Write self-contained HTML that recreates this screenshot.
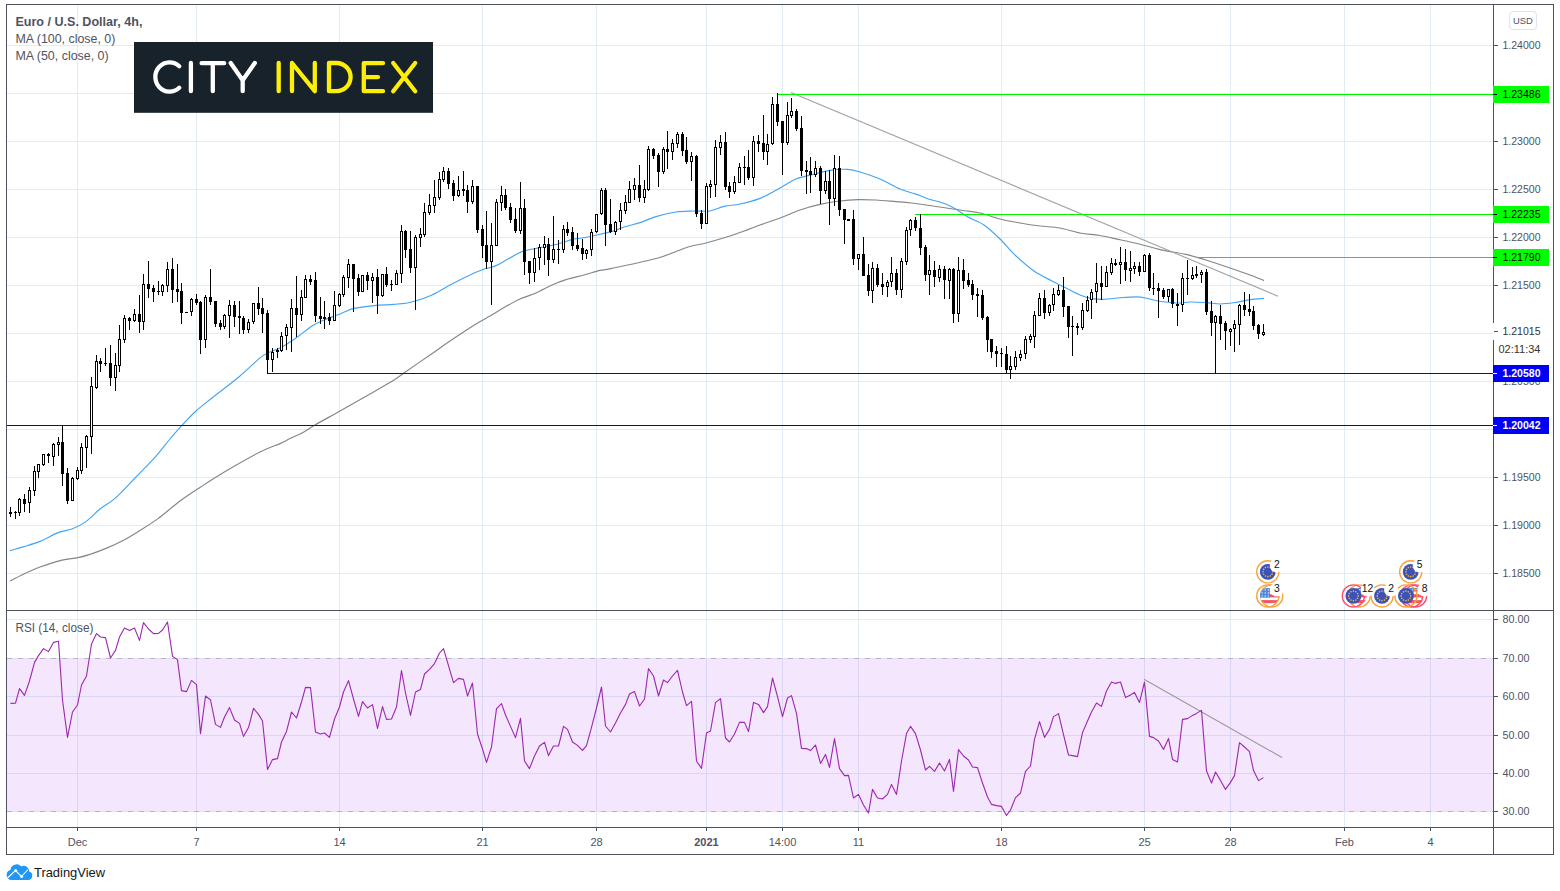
<!DOCTYPE html><html><head><meta charset="utf-8"><title>chart</title><style>html,body{margin:0;padding:0;background:#fff;width:1560px;height:891px;overflow:hidden}</style></head><body><svg width="1560" height="891" viewBox="0 0 1560 891" style="position:absolute;left:0;top:0" font-family="Liberation Sans, sans-serif">
<rect width="1560" height="891" fill="#fff"/>
<path d="M77.5 5V827 M196.5 5V827 M339.5 5V827 M482.5 5V827 M596.5 5V827 M706.5 5V827 M782.5 5V827 M858.5 5V827 M1001.5 5V827 M1144.5 5V827 M1230.5 5V827 M1344.5 5V827 M1430.5 5V827 M7 45.5H1493 M7 93.5H1493 M7 141.5H1493 M7 189.5H1493 M7 237.5H1493 M7 285.5H1493 M7 333.5H1493 M7 381.5H1493 M7 429.5H1493 M7 477.5H1493 M7 525.5H1493 M7 573.5H1493 M7 619.5H1493 M7 696.5H1493 M7 735.5H1493 M7 773.5H1493" stroke="#e1ecf3" stroke-width="1" fill="none" shape-rendering="crispEdges"/>
<rect x="7" y="658.5" width="1486" height="153" fill="#9c27ee" fill-opacity="0.115"/>
<path d="M7 658.5H1493M7 811.5H1493" stroke="#dfe0f5" stroke-width="1" fill="none" shape-rendering="crispEdges"/>
<path d="M7 658.5H1493M7 811.5H1493" stroke="#bfaec6" stroke-width="1" stroke-dasharray="5 6" fill="none"/>
<path d="M10.0 581.0C12.3 579.8 19.0 576.3 24.0 574.0C29.0 571.7 34.0 569.2 40.0 567.0C46.0 564.8 53.7 562.2 60.0 560.6C66.3 559.0 73.0 558.6 78.0 557.6C83.0 556.6 85.3 555.9 90.0 554.4C94.7 552.9 100.3 550.8 106.0 548.4C111.7 546.0 118.3 543.0 124.0 540.0C129.7 537.0 134.3 534.0 140.0 530.4C145.7 526.8 151.3 523.5 158.0 518.6C164.7 513.7 173.0 506.2 180.0 501.0C187.0 495.8 192.3 492.4 200.0 487.4C207.7 482.4 216.0 476.9 226.0 471.0C236.0 465.1 251.0 456.6 260.0 452.0C269.0 447.4 275.0 445.8 280.0 443.6C285.0 441.4 286.3 440.4 290.0 438.6C293.7 436.8 297.8 435.3 302.0 433.0C306.2 430.7 308.7 428.7 315.0 425.0C321.3 421.3 330.8 416.2 340.0 411.0C349.2 405.8 361.0 399.2 370.0 394.0C379.0 388.8 388.3 383.5 394.0 380.0C399.7 376.5 398.0 377.2 404.0 373.0C410.0 368.8 422.3 360.3 430.0 355.0C437.7 349.7 442.3 346.2 450.0 341.0C457.7 335.8 469.3 328.2 476.0 324.0C482.7 319.8 485.3 318.7 490.0 316.0C494.7 313.3 499.0 310.4 504.0 307.6C509.0 304.8 514.7 301.4 520.0 299.0C525.3 296.6 530.7 295.3 536.0 293.0C541.3 290.7 547.0 287.2 552.0 285.0C557.0 282.8 560.7 281.3 566.0 279.6C571.3 277.9 578.3 276.5 584.0 275.0C589.7 273.5 595.3 271.5 600.0 270.4C604.7 269.3 602.3 270.5 612.0 268.4C621.7 266.3 645.3 261.6 658.0 258.0C670.7 254.4 680.0 249.5 688.0 247.0C696.0 244.5 698.0 245.2 706.0 243.0C714.0 240.8 727.0 237.0 736.0 234.0C745.0 231.0 752.7 227.7 760.0 225.0C767.3 222.3 773.3 220.5 780.0 218.0C786.7 215.5 793.3 212.3 800.0 210.0C806.7 207.7 813.3 205.9 820.0 204.4C826.7 202.9 833.7 201.8 840.0 201.0C846.3 200.2 852.0 199.8 858.0 199.6C864.0 199.4 869.7 199.7 876.0 200.0C882.3 200.3 890.0 201.1 896.0 201.6C902.0 202.1 901.3 201.6 912.0 203.0C922.7 204.4 948.7 208.3 960.0 210.0C971.3 211.7 973.3 211.5 980.0 213.0C986.7 214.5 993.3 217.3 1000.0 219.0C1006.7 220.7 1013.3 221.8 1020.0 223.0C1026.7 224.2 1033.3 225.2 1040.0 226.0C1046.7 226.8 1053.3 226.8 1060.0 228.0C1066.7 229.2 1073.3 231.8 1080.0 233.0C1086.7 234.2 1093.3 234.4 1100.0 235.5C1106.7 236.6 1113.3 238.4 1120.0 239.8C1126.7 241.2 1133.3 242.6 1140.0 244.2C1146.7 245.8 1152.3 247.9 1160.0 249.6C1167.7 251.3 1178.3 252.7 1186.0 254.4C1193.7 256.1 1198.7 257.7 1206.0 260.0C1213.3 262.3 1222.7 265.5 1230.0 268.0C1237.3 270.5 1244.3 272.9 1250.0 275.0C1255.7 277.1 1261.7 279.7 1264.0 280.6" stroke="#868686" stroke-width="1.15" fill="none" stroke-linejoin="round"/>
<path d="M10.0 550.6C12.3 549.9 19.0 548.1 24.0 546.6C29.0 545.1 34.3 543.7 40.0 541.4C45.7 539.1 52.7 534.7 58.0 532.6C63.3 530.5 67.3 530.8 72.0 529.0C76.7 527.2 81.3 524.9 86.0 521.6C90.7 518.3 95.2 512.9 100.0 509.0C104.8 505.1 109.0 503.7 115.0 498.4C121.0 493.1 129.5 483.7 136.0 477.0C142.5 470.3 148.3 464.7 154.0 458.4C159.7 452.1 165.5 444.3 170.0 439.0C174.5 433.7 176.7 431.1 181.0 426.4C185.3 421.7 190.8 415.7 196.0 411.0C201.2 406.3 204.7 403.8 212.0 398.0C219.3 392.2 231.5 383.1 240.0 376.0C248.5 368.9 256.3 360.3 263.0 355.6C269.7 350.9 274.5 350.9 280.0 348.0C285.5 345.1 290.7 341.7 296.0 338.0C301.3 334.3 307.3 329.0 312.0 326.0C316.7 323.0 319.3 322.0 324.0 320.0C328.7 318.0 335.0 315.9 340.0 314.0C345.0 312.1 348.0 309.8 354.0 308.4C360.0 307.0 369.3 306.1 376.0 305.4C382.7 304.7 388.0 305.0 394.0 304.4C400.0 303.8 405.7 303.6 412.0 302.0C418.3 300.4 425.3 298.0 432.0 295.0C438.7 292.0 445.3 287.5 452.0 284.0C458.7 280.5 466.8 276.4 472.0 274.0C477.2 271.6 479.0 271.0 483.0 269.6C487.0 268.2 491.8 267.4 496.0 265.6C500.2 263.8 503.7 261.3 508.0 259.0C512.3 256.7 516.7 253.5 522.0 251.6C527.3 249.7 534.0 248.9 540.0 247.6C546.0 246.3 552.7 245.3 558.0 244.0C563.3 242.7 567.0 240.8 572.0 239.6C577.0 238.4 583.3 237.9 588.0 237.0C592.7 236.1 596.0 235.1 600.0 234.2C604.0 233.3 608.0 232.7 612.0 231.5C616.0 230.3 619.3 228.5 624.0 227.0C628.7 225.5 634.7 224.3 640.0 222.6C645.3 220.9 650.0 218.4 656.0 216.6C662.0 214.8 669.7 212.9 676.0 212.0C682.3 211.1 688.3 211.2 694.0 211.0C699.7 210.8 705.0 211.8 710.0 211.0C715.0 210.2 719.0 207.6 724.0 206.4C729.0 205.2 734.0 205.3 740.0 204.0C746.0 202.7 753.3 201.1 760.0 198.4C766.7 195.7 774.0 191.2 780.0 188.0C786.0 184.8 790.7 181.2 796.0 179.0C801.3 176.8 806.3 176.0 812.0 174.6C817.7 173.2 824.0 171.3 830.0 170.4C836.0 169.5 843.0 169.1 848.0 169.4C853.0 169.7 854.7 170.4 860.0 172.0C865.3 173.6 873.3 176.2 880.0 179.0C886.7 181.8 894.7 186.7 900.0 189.0C905.3 191.3 908.7 191.9 912.0 193.0C915.3 194.1 917.0 194.4 920.0 195.5C923.0 196.6 926.7 198.4 930.0 199.5C933.3 200.6 936.7 200.9 940.0 202.0C943.3 203.1 947.0 204.6 950.0 206.0C953.0 207.4 955.0 208.7 958.0 210.5C961.0 212.3 963.7 214.6 968.0 217.0C972.3 219.4 978.7 221.3 984.0 225.0C989.3 228.7 994.7 233.8 1000.0 239.0C1005.3 244.2 1010.3 250.7 1016.0 256.0C1021.7 261.3 1028.0 266.8 1034.0 271.0C1040.0 275.2 1046.7 278.2 1052.0 281.0C1057.3 283.8 1061.3 285.7 1066.0 288.0C1070.7 290.3 1075.7 293.2 1080.0 295.0C1084.3 296.8 1088.0 297.9 1092.0 298.6C1096.0 299.3 1099.3 299.5 1104.0 299.4C1108.7 299.3 1114.7 298.2 1120.0 297.8C1125.3 297.4 1131.7 296.9 1136.0 296.9C1140.3 296.9 1142.3 297.3 1146.0 298.0C1149.7 298.7 1153.0 300.2 1158.0 301.0C1163.0 301.8 1170.7 302.8 1176.0 303.0C1181.3 303.2 1185.0 302.1 1190.0 302.0C1195.0 301.9 1201.0 302.3 1206.0 302.6C1211.0 302.9 1215.0 304.0 1220.0 304.0C1225.0 304.0 1231.0 303.1 1236.0 302.4C1241.0 301.7 1245.3 300.3 1250.0 299.6C1254.7 298.9 1261.7 298.6 1264.0 298.4" stroke="#42a5f5" stroke-width="1.15" fill="none" stroke-linejoin="round"/>
<path d="M791 92.4L1278 296.2" stroke="#a0a0a0" stroke-width="1.05" fill="none"/>
<path d="M1144 679.2L1282 757.5" stroke="#9a9a9a" stroke-width="1.05" fill="none"/>
<path d="M777 94.5H1493M915 214.5H1493M1196 257.5H1493" stroke="#00f400" stroke-width="1" shape-rendering="crispEdges" fill="none"/>
<path d="M267 373.5H1493M7 425.5H1493" stroke="#0000f5" stroke-width="1" fill="none" shape-rendering="crispEdges"/>
<path d="M10.5 507V517 M15.5 511V519 M19.5 498V499 M19.5 513V516 M24.5 494V512 M29.5 487V490 M29.5 503V513 M34.5 466V471 M34.5 491V496 M38.5 472V478 M43.5 465V466 M48.5 453V463 M53.5 443V444 M53.5 457V466 M58.5 437V442 M58.5 445V456 M62.5 426V486 M67.5 468V504 M72.5 477V478 M77.5 467V470 M77.5 479V480 M81.5 443V447 M81.5 471V474 M86.5 435V436 M86.5 448V468 M91.5 377V386 M91.5 437V454 M96.5 355V361 M96.5 388V389 M100.5 358V372 M105.5 348V366 M110.5 345V386 M115.5 353V365 M115.5 378V391 M119.5 325V339 M119.5 366V372 M124.5 315V318 M124.5 340V343 M129.5 317V330 M134.5 309V314 M134.5 321V322 M139.5 295V333 M143.5 274V284 M143.5 322V330 M148.5 261V298 M153.5 285V302 M158.5 281V295 M162.5 284V285 M162.5 292V296 M167.5 262V269 M167.5 286V292 M172.5 258V303 M177.5 264V302 M181.5 283V324 M186.5 312V313 M191.5 298V299 M191.5 312V316 M196.5 294V305 M200.5 301V354 M205.5 295V297 M205.5 340V348 M210.5 269V305 M215.5 301V327 M220.5 320V330 M224.5 314V315 M224.5 327V329 M229.5 300V305 M229.5 316V338 M234.5 301V327 M239.5 301V334 M243.5 316V334 M248.5 319V322 M248.5 330V333 M253.5 322V324 M258.5 287V315 M262.5 298V333 M267.5 310V374 M272.5 348V352 M272.5 360V372 M277.5 348V358 M281.5 332V336 M281.5 351V352 M286.5 324V327 M286.5 336V350 M291.5 299V308 M291.5 328V352 M296.5 276V337 M301.5 290V297 M301.5 315V321 M305.5 275V279 M310.5 275V285 M315.5 272V322 M320.5 297V324 M324.5 301V329 M329.5 313V325 M334.5 291V305 M339.5 293V294 M339.5 306V307 M343.5 275V277 M343.5 295V297 M348.5 259V264 M348.5 278V288 M353.5 264V312 M358.5 274V296 M367.5 272V290 M372.5 273V277 M372.5 281V303 M377.5 269V314 M382.5 296V297 M386.5 267V287 M391.5 280V291 M396.5 270V273 M401.5 225V231 M401.5 274V283 M405.5 230V258 M410.5 231V273 M415.5 235V237 M415.5 268V310 M420.5 228V234 M420.5 238V247 M424.5 203V212 M424.5 235V237 M429.5 194V205 M429.5 213V215 M434.5 180V197 M434.5 206V213 M439.5 172V179 M439.5 198V200 M443.5 167V171 M443.5 180V182 M448.5 168V189 M453.5 180V201 M458.5 176V190 M458.5 196V197 M463.5 171V196 M467.5 185V213 M472.5 180V186 M472.5 202V204 M477.5 186V233 M482.5 225V258 M486.5 211V269 M491.5 223V245 M491.5 262V305 M496.5 199V202 M501.5 186V195 M501.5 203V211 M505.5 189V210 M510.5 203V223 M515.5 208V233 M520.5 182V208 M520.5 231V234 M524.5 199V275 M529.5 261V284 M534.5 248V258 M534.5 273V282 M539.5 244V247 M539.5 258V270 M544.5 236V244 M544.5 248V265 M548.5 238V276 M553.5 216V249 M553.5 260V263 M558.5 240V264 M563.5 225V229 M563.5 250V253 M567.5 222V236 M572.5 227V250 M577.5 233V251 M582.5 239V260 M586.5 249V250 M586.5 254V259 M591.5 229V232 M591.5 250V256 M596.5 232V233 M601.5 188V190 M601.5 214V215 M605.5 188V246 M610.5 199V233 M615.5 221V222 M615.5 232V235 M620.5 203V210 M620.5 222V230 M625.5 195V202 M625.5 211V214 M629.5 181V189 M634.5 178V185 M634.5 190V200 M639.5 165V202 M644.5 180V189 M644.5 198V203 M648.5 146V149 M648.5 190V191 M653.5 148V159 M658.5 153V187 M663.5 147V149 M663.5 172V174 M667.5 131V169 M672.5 139V143 M672.5 152V160 M677.5 132V134 M677.5 144V148 M682.5 132V156 M686.5 137V164 M691.5 152V156 M691.5 162V181 M696.5 155V217 M701.5 210V229 M706.5 183V186 M710.5 180V184 M710.5 187V198 M715.5 140V147 M715.5 185V197 M720.5 135V142 M720.5 148V155 M725.5 132V190 M729.5 182V198 M734.5 176V182 M734.5 192V194 M739.5 163V167 M744.5 156V185 M748.5 150V180 M753.5 136V141 M753.5 178V186 M758.5 135V152 M763.5 115V160 M767.5 134V144 M767.5 152V165 M772.5 97V104 M772.5 144V145 M777.5 93V126 M782.5 121V175 M787.5 102V115 M787.5 143V145 M791.5 98V111 M791.5 116V118 M796.5 109V131 M801.5 116V176 M806.5 161V194 M810.5 157V193 M815.5 161V168 M815.5 175V177 M820.5 166V204 M825.5 171V181 M825.5 191V194 M829.5 170V225 M834.5 155V168 M834.5 199V206 M839.5 156V216 M844.5 209V244 M848.5 219V221 M853.5 210V265 M858.5 259V270 M863.5 237V276 M868.5 264V296 M872.5 262V268 M872.5 291V303 M877.5 264V287 M882.5 273V295 M887.5 280V282 M887.5 287V297 M891.5 257V273 M891.5 282V287 M896.5 269V295 M901.5 258V261 M901.5 290V298 M906.5 227V230 M906.5 262V265 M910.5 219V220 M910.5 230V236 M915.5 217V231 M920.5 214V255 M925.5 245V281 M929.5 255V270 M929.5 275V295 M934.5 261V287 M939.5 265V269 M939.5 278V282 M944.5 266V299 M949.5 268V269 M949.5 281V299 M953.5 268V323 M958.5 257V270 M958.5 314V322 M963.5 259V289 M968.5 273V287 M972.5 280V300 M977.5 288V317 M982.5 290V320 M987.5 316V352 M991.5 339V358 M996.5 346V367 M1001.5 348V367 M1006.5 346V373 M1010.5 356V366 M1010.5 370V379 M1015.5 351V357 M1015.5 367V370 M1020.5 350V354 M1020.5 358V361 M1025.5 336V339 M1025.5 354V359 M1030.5 334V336 M1030.5 340V343 M1034.5 311V315 M1034.5 337V348 M1039.5 293V298 M1044.5 290V319 M1049.5 304V305 M1049.5 313V316 M1053.5 288V294 M1053.5 305V311 M1058.5 285V290 M1058.5 295V296 M1063.5 277V317 M1068.5 306V338 M1072.5 316V356 M1077.5 323V335 M1082.5 303V310 M1082.5 328V330 M1087.5 296V300 M1087.5 311V312 M1091.5 289V292 M1091.5 300V319 M1096.5 263V283 M1096.5 292V303 M1101.5 266V300 M1106.5 266V272 M1111.5 258V263 M1111.5 273V275 M1115.5 259V266 M1120.5 247V262 M1120.5 265V284 M1125.5 249V281 M1130.5 251V268 M1130.5 271V282 M1134.5 262V266 M1134.5 269V274 M1139.5 262V276 M1144.5 254V255 M1149.5 253V291 M1153.5 273V295 M1158.5 283V318 M1163.5 288V299 M1168.5 297V302 M1172.5 288V308 M1177.5 293V326 M1182.5 273V278 M1182.5 305V312 M1187.5 260V295 M1192.5 267V275 M1192.5 279V280 M1196.5 266V278 M1201.5 270V272 M1201.5 275V283 M1206.5 269V315 M1211.5 301V336 M1215.5 315V316 M1215.5 323V374 M1220.5 305V340 M1225.5 321V350 M1230.5 328V329 M1230.5 332V346 M1234.5 320V324 M1234.5 329V352 M1239.5 304V305 M1239.5 325V345 M1244.5 292V316 M1249.5 294V316 M1253.5 306V330 M1258.5 324V339 M1263.5 324V332 M1263.5 335V336" stroke="#000" stroke-width="1" fill="none" shape-rendering="crispEdges"/>
<path d="M9 512h3v2h-3z M14 512h3v1h-3z M23 499h3v5h-3z M47 454h3v2h-3z M61 442h3v32h-3z M66 473h3v28h-3z M99 361h3v3h-3z M104 363h3v1h-3z M109 363h3v15h-3z M128 318h3v3h-3z M138 314h3v8h-3z M147 284h3v5h-3z M152 288h3v4h-3z M157 291h3v1h-3z M171 269h3v21h-3z M176 289h3v3h-3z M180 291h3v22h-3z M185 312h3v1h-3z M195 299h3v4h-3z M199 302h3v38h-3z M209 297h3v5h-3z M214 301h3v23h-3z M219 323h3v4h-3z M233 305h3v12h-3z M238 316h3v2h-3z M242 318h3v12h-3z M257 303h3v6h-3z M261 308h3v6h-3z M266 313h3v47h-3z M276 350h3v2h-3z M295 308h3v7h-3z M309 279h3v3h-3z M314 280h3v36h-3z M319 316h3v3h-3z M323 317h3v2h-3z M328 317h3v4h-3z M352 264h3v15h-3z M357 278h3v14h-3z M366 275h3v6h-3z M376 277h3v19h-3z M385 274h3v11h-3z M390 284h3v1h-3z M404 231h3v19h-3z M409 249h3v19h-3z M447 171h3v13h-3z M452 183h3v13h-3z M462 189h3v2h-3z M466 190h3v12h-3z M476 186h3v44h-3z M481 229h3v17h-3z M485 245h3v17h-3z M504 195h3v13h-3z M509 207h3v13h-3z M514 219h3v12h-3z M523 208h3v54h-3z M528 261h3v12h-3z M547 244h3v16h-3z M557 249h3v1h-3z M566 229h3v4h-3z M571 232h3v14h-3z M576 245h3v4h-3z M581 248h3v6h-3z M604 190h3v35h-3z M609 224h3v8h-3z M638 185h3v13h-3z M652 149h3v7h-3z M657 155h3v17h-3z M666 149h3v3h-3z M681 134h3v17h-3z M685 150h3v12h-3z M695 156h3v58h-3z M700 213h3v11h-3z M724 142h3v45h-3z M728 186h3v6h-3z M743 167h3v1h-3z M747 167h3v11h-3z M757 141h3v3h-3z M762 143h3v9h-3z M776 104h3v18h-3z M781 121h3v22h-3z M795 111h3v18h-3z M800 128h3v43h-3z M805 170h3v2h-3z M809 171h3v4h-3z M819 168h3v23h-3z M828 181h3v18h-3z M838 168h3v42h-3z M843 209h3v11h-3z M847 219h3v2h-3z M852 219h3v40h-3z M862 254h3v22h-3z M867 275h3v16h-3z M876 268h3v17h-3z M881 284h3v3h-3z M895 273h3v17h-3z M914 220h3v8h-3z M919 228h3v20h-3z M924 247h3v28h-3z M933 270h3v7h-3z M943 269h3v11h-3z M952 269h3v45h-3z M962 270h3v11h-3z M967 280h3v5h-3z M971 284h3v11h-3z M976 294h3v2h-3z M981 295h3v23h-3z M986 317h3v23h-3z M990 339h3v13h-3z M995 351h3v3h-3z M1000 353h3v1h-3z M1005 354h3v16h-3z M1043 298h3v15h-3z M1062 290h3v17h-3z M1067 306h3v21h-3z M1071 326h3v1h-3z M1076 326h3v2h-3z M1100 283h3v4h-3z M1114 263h3v2h-3z M1124 262h3v8h-3z M1138 266h3v6h-3z M1148 255h3v33h-3z M1152 288h3v1h-3z M1157 288h3v3h-3z M1162 290h3v7h-3z M1171 289h3v15h-3z M1176 304h3v2h-3z M1186 278h3v1h-3z M1195 274h3v2h-3z M1205 272h3v40h-3z M1210 311h3v12h-3z M1219 316h3v8h-3z M1224 323h3v8h-3z M1243 305h3v5h-3z M1248 309h3v3h-3z M1252 311h3v15h-3z M1257 325h3v9h-3z" fill="#000" shape-rendering="crispEdges"/>
<path d="M18.5 499.5h2v13h-2z M28.5 490.5h2v12h-2z M33.5 471.5h2v19h-2z M37.5 464.5h2v7h-2z M42.5 454.5h2v10h-2z M52.5 444.5h2v12h-2z M57.5 442.5h2v2h-2z M71.5 478.5h2v22h-2z M76.5 470.5h2v8h-2z M80.5 447.5h2v23h-2z M85.5 436.5h2v11h-2z M90.5 386.5h2v50h-2z M95.5 361.5h2v26h-2z M114.5 365.5h2v12h-2z M118.5 339.5h2v26h-2z M123.5 318.5h2v21h-2z M133.5 314.5h2v6h-2z M142.5 284.5h2v37h-2z M161.5 285.5h2v6h-2z M166.5 269.5h2v16h-2z M190.5 299.5h2v12h-2z M204.5 297.5h2v42h-2z M223.5 315.5h2v11h-2z M228.5 305.5h2v10h-2z M247.5 322.5h2v7h-2z M252.5 303.5h2v18h-2z M271.5 352.5h2v7h-2z M280.5 336.5h2v14h-2z M285.5 327.5h2v8h-2z M290.5 308.5h2v19h-2z M300.5 297.5h2v17h-2z M304.5 279.5h2v18h-2z M333.5 305.5h2v15h-2z M338.5 294.5h2v11h-2z M342.5 277.5h2v17h-2z M347.5 264.5h2v13h-2z M361.5 275.5h2v16h-2z M371.5 277.5h2v3h-2z M381.5 274.5h2v21h-2z M395.5 273.5h2v11h-2z M400.5 231.5h2v42h-2z M414.5 237.5h2v30h-2z M419.5 234.5h2v3h-2z M423.5 212.5h2v22h-2z M428.5 205.5h2v7h-2z M433.5 197.5h2v8h-2z M438.5 179.5h2v18h-2z M442.5 171.5h2v8h-2z M457.5 190.5h2v5h-2z M471.5 186.5h2v15h-2z M490.5 245.5h2v16h-2z M495.5 202.5h2v43h-2z M500.5 195.5h2v7h-2z M519.5 208.5h2v22h-2z M533.5 258.5h2v14h-2z M538.5 247.5h2v10h-2z M543.5 244.5h2v3h-2z M552.5 249.5h2v10h-2z M562.5 229.5h2v20h-2z M585.5 250.5h2v3h-2z M590.5 232.5h2v17h-2z M595.5 214.5h2v17h-2z M600.5 190.5h2v23h-2z M614.5 222.5h2v9h-2z M619.5 210.5h2v11h-2z M624.5 202.5h2v8h-2z M628.5 189.5h2v13h-2z M633.5 185.5h2v4h-2z M643.5 189.5h2v8h-2z M647.5 149.5h2v40h-2z M662.5 149.5h2v22h-2z M671.5 143.5h2v8h-2z M676.5 134.5h2v9h-2z M690.5 156.5h2v5h-2z M705.5 186.5h2v37h-2z M709.5 184.5h2v2h-2z M714.5 147.5h2v37h-2z M719.5 142.5h2v5h-2z M733.5 182.5h2v9h-2z M738.5 167.5h2v15h-2z M752.5 141.5h2v36h-2z M766.5 144.5h2v7h-2z M771.5 104.5h2v39h-2z M786.5 115.5h2v27h-2z M790.5 111.5h2v4h-2z M814.5 168.5h2v6h-2z M824.5 181.5h2v9h-2z M833.5 168.5h2v30h-2z M857.5 254.5h2v4h-2z M871.5 268.5h2v22h-2z M886.5 282.5h2v4h-2z M890.5 273.5h2v8h-2z M900.5 261.5h2v28h-2z M905.5 230.5h2v31h-2z M909.5 220.5h2v9h-2z M928.5 270.5h2v4h-2z M938.5 269.5h2v8h-2z M948.5 269.5h2v11h-2z M957.5 270.5h2v43h-2z M1009.5 366.5h2v3h-2z M1014.5 357.5h2v9h-2z M1019.5 354.5h2v3h-2z M1024.5 339.5h2v14h-2z M1029.5 336.5h2v3h-2z M1033.5 315.5h2v21h-2z M1038.5 298.5h2v17h-2z M1048.5 305.5h2v7h-2z M1052.5 294.5h2v10h-2z M1057.5 290.5h2v4h-2z M1081.5 310.5h2v17h-2z M1086.5 300.5h2v10h-2z M1090.5 292.5h2v7h-2z M1095.5 283.5h2v8h-2z M1105.5 272.5h2v14h-2z M1110.5 263.5h2v9h-2z M1119.5 262.5h2v2h-2z M1129.5 268.5h2v2h-2z M1133.5 266.5h2v2h-2z M1143.5 255.5h2v16h-2z M1167.5 289.5h2v7h-2z M1181.5 278.5h2v26h-2z M1191.5 275.5h2v3h-2z M1200.5 272.5h2v2h-2z M1214.5 316.5h2v6h-2z M1229.5 329.5h2v2h-2z M1233.5 324.5h2v4h-2z M1238.5 305.5h2v19h-2z M1262.5 332.5h2v2h-2z" fill="#fff" stroke="#000" stroke-width="1" shape-rendering="crispEdges"/>
<path d="M10.5 703.4 L15.5 703.2 L19.5 688.6 L24.5 695.4 L29.5 681.0 L34.5 662.4 L38.5 655.6 L43.5 648.6 L48.5 651.6 L53.5 642.4 L58.5 641.2 L62.5 700.0 L67.5 737.4 L72.5 712.0 L77.5 705.0 L81.5 685.0 L86.5 676.0 L91.5 644.0 L96.5 633.6 L100.5 637.0 L105.5 637.6 L110.5 658.0 L115.5 650.4 L119.5 637.0 L124.5 628.0 L129.5 630.6 L134.5 628.0 L139.5 640.4 L143.5 622.6 L148.5 629.0 L153.5 633.6 L158.5 633.4 L162.5 630.0 L167.5 622.0 L172.5 656.4 L177.5 659.6 L181.5 690.6 L186.5 691.6 L191.5 680.4 L196.5 684.6 L200.5 733.6 L205.5 696.0 L210.5 700.0 L215.5 724.4 L220.5 727.4 L224.5 717.0 L229.5 707.6 L234.5 720.0 L239.5 723.4 L243.5 736.4 L248.5 727.6 L253.5 708.4 L258.5 714.4 L262.5 721.0 L267.5 769.4 L272.5 759.6 L277.5 758.6 L281.5 742.0 L286.5 731.4 L291.5 712.0 L296.5 718.0 L301.5 702.0 L305.5 687.4 L310.5 687.6 L315.5 732.0 L320.5 734.0 L324.5 733.0 L329.5 737.4 L334.5 719.0 L339.5 707.0 L343.5 692.0 L348.5 680.6 L353.5 699.0 L358.5 716.4 L362.5 701.6 L367.5 708.0 L372.5 704.6 L377.5 728.4 L382.5 706.6 L386.5 719.4 L391.5 719.0 L396.5 707.0 L401.5 670.6 L405.5 693.0 L410.5 715.4 L415.5 692.0 L420.5 689.4 L424.5 674.0 L429.5 669.4 L434.5 663.6 L439.5 653.0 L443.5 648.6 L448.5 665.6 L453.5 682.6 L458.5 678.4 L463.5 679.4 L467.5 696.0 L472.5 683.0 L477.5 734.0 L482.5 749.0 L486.5 762.4 L491.5 747.0 L496.5 708.6 L501.5 703.6 L505.5 715.0 L510.5 726.4 L515.5 737.6 L520.5 718.4 L524.5 761.0 L529.5 768.6 L534.5 756.0 L539.5 746.0 L544.5 742.4 L548.5 755.6 L553.5 746.0 L558.5 746.0 L563.5 726.4 L567.5 729.4 L572.5 742.0 L577.5 745.4 L582.5 750.4 L586.5 745.6 L591.5 727.4 L596.5 708.0 L601.5 687.0 L605.5 726.0 L610.5 732.0 L615.5 723.0 L620.5 713.0 L625.5 704.4 L629.5 694.0 L634.5 691.6 L639.5 706.0 L644.5 699.0 L648.5 668.6 L653.5 676.0 L658.5 696.0 L663.5 680.0 L667.5 682.6 L672.5 676.0 L677.5 670.4 L682.5 692.0 L686.5 705.6 L691.5 701.4 L696.5 761.0 L701.5 768.4 L706.5 733.0 L710.5 731.0 L715.5 702.6 L720.5 698.6 L725.5 738.0 L729.5 742.0 L734.5 734.0 L739.5 722.4 L744.5 722.4 L748.5 731.6 L753.5 702.4 L758.5 704.4 L763.5 712.6 L767.5 706.6 L772.5 678.0 L777.5 696.6 L782.5 716.6 L787.5 698.0 L791.5 695.6 L796.5 713.4 L801.5 748.4 L806.5 748.6 L810.5 750.6 L815.5 745.0 L820.5 763.4 L825.5 754.4 L829.5 767.4 L834.5 738.6 L839.5 768.6 L844.5 775.6 L848.5 775.4 L853.5 798.0 L858.5 794.4 L863.5 805.0 L868.5 813.0 L872.5 789.4 L877.5 798.0 L882.5 799.0 L887.5 794.4 L891.5 784.4 L896.5 794.4 L901.5 761.0 L906.5 733.6 L910.5 726.4 L915.5 733.6 L920.5 750.0 L925.5 770.0 L929.5 766.4 L934.5 771.4 L939.5 763.0 L944.5 771.0 L949.5 759.4 L953.5 791.4 L958.5 749.6 L963.5 756.0 L968.5 760.0 L972.5 767.0 L977.5 767.6 L982.5 783.0 L987.5 797.0 L991.5 804.4 L996.5 805.6 L1001.5 806.4 L1006.5 815.4 L1010.5 810.0 L1015.5 797.6 L1020.5 793.0 L1025.5 771.4 L1030.5 766.0 L1034.5 739.4 L1039.5 721.6 L1044.5 737.4 L1049.5 729.4 L1053.5 716.6 L1058.5 713.6 L1063.5 734.6 L1068.5 755.0 L1072.5 755.6 L1077.5 756.6 L1082.5 732.6 L1087.5 721.0 L1091.5 712.0 L1096.5 703.0 L1101.5 706.4 L1106.5 691.0 L1111.5 682.0 L1115.5 683.4 L1120.5 682.0 L1125.5 697.4 L1130.5 695.0 L1134.5 692.4 L1139.5 702.4 L1144.5 682.0 L1149.5 736.4 L1153.5 737.6 L1158.5 741.0 L1163.5 749.4 L1168.5 738.4 L1172.5 759.4 L1177.5 762.0 L1182.5 719.4 L1187.5 718.6 L1192.5 715.4 L1196.5 713.4 L1201.5 710.4 L1206.5 771.0 L1211.5 783.0 L1215.5 772.0 L1220.5 780.4 L1225.5 789.4 L1230.5 782.4 L1234.5 775.6 L1239.5 742.6 L1244.5 747.0 L1249.5 751.6 L1253.5 770.6 L1258.5 780.6 L1263.5 777.6" stroke="#9c27b0" stroke-width="1.1" fill="none" stroke-linejoin="round"/>
<path d="M6.5 4.5H1553.5V854.5H6.5zM1493.5 4.5V854.5M6.5 610.5H1553.5M6.5 827.5H1553.5" stroke="#4d525e" stroke-width="1" fill="none" shape-rendering="crispEdges"/>
<path d="M1494 45.5h4 M1494 93.5h4 M1494 141.5h4 M1494 189.5h4 M1494 237.5h4 M1494 285.5h4 M1494 333.5h4 M1494 381.5h4 M1494 429.5h4 M1494 477.5h4 M1494 525.5h4 M1494 573.5h4 M1494 619.5h4 M1494 658.5h4 M1494 696.5h4 M1494 735.5h4 M1494 773.5h4 M1494 811.5h4 M77.5 828v3 M196.5 828v3 M339.5 828v3 M482.5 828v3 M596.5 828v3 M706.5 828v3 M782.5 828v3 M858.5 828v3 M1001.5 828v3 M1144.5 828v3 M1230.5 828v3 M1344.5 828v3 M1430.5 828v3" stroke="#4d525e" stroke-width="1" fill="none" shape-rendering="crispEdges"/>
<text x="1502.5" y="48.8" font-size="11" fill="#50535e" textLength="38" lengthAdjust="spacingAndGlyphs">1.24000</text>
<text x="1502.5" y="96.8" font-size="11" fill="#50535e" textLength="38" lengthAdjust="spacingAndGlyphs">1.23500</text>
<text x="1502.5" y="144.8" font-size="11" fill="#50535e" textLength="38" lengthAdjust="spacingAndGlyphs">1.23000</text>
<text x="1502.5" y="192.8" font-size="11" fill="#50535e" textLength="38" lengthAdjust="spacingAndGlyphs">1.22500</text>
<text x="1502.5" y="240.8" font-size="11" fill="#50535e" textLength="38" lengthAdjust="spacingAndGlyphs">1.22000</text>
<text x="1502.5" y="288.8" font-size="11" fill="#50535e" textLength="38" lengthAdjust="spacingAndGlyphs">1.21500</text>
<text x="1502.5" y="336.8" font-size="11" fill="#50535e" textLength="38" lengthAdjust="spacingAndGlyphs">1.21000</text>
<text x="1502.5" y="384.8" font-size="11" fill="#50535e" textLength="38" lengthAdjust="spacingAndGlyphs">1.20500</text>
<text x="1502.5" y="432.8" font-size="11" fill="#50535e" textLength="38" lengthAdjust="spacingAndGlyphs">1.20000</text>
<text x="1502.5" y="480.8" font-size="11" fill="#50535e" textLength="38" lengthAdjust="spacingAndGlyphs">1.19500</text>
<text x="1502.5" y="528.8" font-size="11" fill="#50535e" textLength="38" lengthAdjust="spacingAndGlyphs">1.19000</text>
<text x="1502.5" y="576.8" font-size="11" fill="#50535e" textLength="38" lengthAdjust="spacingAndGlyphs">1.18500</text>
<text x="1502.5" y="622.8" font-size="11" fill="#50535e" textLength="27" lengthAdjust="spacingAndGlyphs">80.00</text>
<text x="1502.5" y="661.8" font-size="11" fill="#50535e" textLength="27" lengthAdjust="spacingAndGlyphs">70.00</text>
<text x="1502.5" y="699.8" font-size="11" fill="#50535e" textLength="27" lengthAdjust="spacingAndGlyphs">60.00</text>
<text x="1502.5" y="738.8" font-size="11" fill="#50535e" textLength="27" lengthAdjust="spacingAndGlyphs">50.00</text>
<text x="1502.5" y="776.8" font-size="11" fill="#50535e" textLength="27" lengthAdjust="spacingAndGlyphs">40.00</text>
<text x="1502.5" y="814.8" font-size="11" fill="#50535e" textLength="27" lengthAdjust="spacingAndGlyphs">30.00</text>
<rect x="1493" y="323" width="58" height="17" fill="#fff"/>
<path d="M1494 331.5h4" stroke="#4d525e" stroke-width="1" shape-rendering="crispEdges"/>
<text x="1502.5" y="334.8" font-size="11" fill="#333" textLength="38" lengthAdjust="spacingAndGlyphs">1.21015</text>
<text x="1498.5" y="352.8" font-size="11" fill="#333" textLength="42" lengthAdjust="spacingAndGlyphs">02:11:34</text>
<rect x="1493" y="86.0" width="56" height="17" fill="#00ff00"/>
<path d="M1493 94.5h4" stroke="#000" stroke-width="1" shape-rendering="crispEdges"/>
<text x="1502.5" y="97.8" font-size="11" fill="#000" textLength="38" lengthAdjust="spacingAndGlyphs">1.23486</text>
<rect x="1493" y="206.0" width="56" height="17" fill="#00ff00"/>
<path d="M1493 214.5h4" stroke="#000" stroke-width="1" shape-rendering="crispEdges"/>
<text x="1502.5" y="217.8" font-size="11" fill="#000" textLength="38" lengthAdjust="spacingAndGlyphs">1.22235</text>
<rect x="1493" y="249.0" width="56" height="17" fill="#00ff00"/>
<path d="M1493 257.5h4" stroke="#000" stroke-width="1" shape-rendering="crispEdges"/>
<text x="1502.5" y="260.8" font-size="11" fill="#000" textLength="38" lengthAdjust="spacingAndGlyphs">1.21790</text>
<rect x="1493" y="365.0" width="56" height="17" fill="#0000f5"/>
<path d="M1493 373.5h4" stroke="#fff" stroke-width="1" shape-rendering="crispEdges"/>
<text x="1502.5" y="376.8" font-size="11" fill="#fff" font-weight="bold" textLength="38" lengthAdjust="spacingAndGlyphs">1.20580</text>
<rect x="1493" y="417.0" width="56" height="17" fill="#0000f5"/>
<path d="M1493 425.5h4" stroke="#fff" stroke-width="1" shape-rendering="crispEdges"/>
<text x="1502.5" y="428.8" font-size="11" fill="#fff" font-weight="bold" textLength="38" lengthAdjust="spacingAndGlyphs">1.20042</text>
<rect x="1509.5" y="11.5" width="27" height="18" rx="3.5" fill="#fff" stroke="#e0e3eb"/>
<text x="1523" y="24.2" font-size="9.4" fill="#50535e" text-anchor="middle">USD</text>
<text x="77.5" y="846" font-size="11" fill="#50535e" text-anchor="middle">Dec</text>
<text x="196.5" y="846" font-size="11" fill="#50535e" text-anchor="middle">7</text>
<text x="339.5" y="846" font-size="11" fill="#50535e" text-anchor="middle">14</text>
<text x="482.5" y="846" font-size="11" fill="#50535e" text-anchor="middle">21</text>
<text x="596.5" y="846" font-size="11" fill="#50535e" text-anchor="middle">28</text>
<text x="706.5" y="846" font-size="11" fill="#50535e" text-anchor="middle" font-weight="bold">2021</text>
<text x="782.5" y="846" font-size="11" fill="#50535e" text-anchor="middle">14:00</text>
<text x="858.5" y="846" font-size="11" fill="#50535e" text-anchor="middle">11</text>
<text x="1001.5" y="846" font-size="11" fill="#50535e" text-anchor="middle">18</text>
<text x="1144.5" y="846" font-size="11" fill="#50535e" text-anchor="middle">25</text>
<text x="1230.5" y="846" font-size="11" fill="#50535e" text-anchor="middle">28</text>
<text x="1344.5" y="846" font-size="11" fill="#50535e" text-anchor="middle">Feb</text>
<text x="1430.5" y="846" font-size="11" fill="#50535e" text-anchor="middle">4</text>
<text x="15.4" y="26" font-size="12.5" font-weight="bold" fill="#50535e" textLength="127" lengthAdjust="spacingAndGlyphs">Euro / U.S. Dollar, 4h,</text>
<text x="15.4" y="43" font-size="12.5" fill="#50535e" textLength="100" lengthAdjust="spacingAndGlyphs">MA (100, close, 0)</text>
<text x="15.4" y="60" font-size="12.5" fill="#50535e" textLength="93.3" lengthAdjust="spacingAndGlyphs">MA (50, close, 0)</text>
<text x="15.4" y="632" font-size="12.5" fill="#50535e" textLength="78" lengthAdjust="spacingAndGlyphs">RSI (14, close)</text>
<rect x="134" y="42" width="299" height="70.8" fill="#17222b"/>
<g fill="none" stroke-width="4.3" stroke-linecap="round" stroke-linejoin="round">
<path stroke="#fff" d="M179.2 66.3A14.2 14.6 0 1 0 179.2 87.7 M190.9 63V91.2 M201.6 63.2H224.2 M212.8 63.2V91.2 M230.7 63L242.7 80.2L254.8 63 M242.7 80.2V91.2"/>
<path stroke="#fcee09" d="M278.7 63V91.2 M292 91.2V63L314.8 91.2V63 M329 63V91.2H336.5A14.1 14.1 0 0 0 336.5 63z M383 63.2H363.8V91.2H383 M363.8 77.1H378 M393.2 63L415.2 91.2 M415.2 63L393.2 91.2"/>
</g>
<path d="M11.5 880h16.5a4.4 4.4 0 0 0 1.2-8.6a5.6 5.6 0 0 0-8-5a6.2 6.2 0 0 0-10.8 3.6a5.1 5.1 0 0 0 1.1 10z" fill="#2196f3"/>
<path d="M7.5 878l8-7.5 6 6 6.5-7" stroke="#fff" stroke-width="1.1" fill="none"/>
<circle cx="15.6" cy="870.6" r="1.5" fill="#fff"/><circle cx="21.6" cy="876.4" r="1.5" fill="#fff"/>
<text x="34" y="877.3" font-size="13" fill="#131722" textLength="71" lengthAdjust="spacingAndGlyphs">TradingView</text>
<clipPath id="cp1"><circle cx="1271.7" cy="595.9" r="7.9"/></clipPath>
<g clip-path="url(#cp1)"><rect x="1263.7" y="587.9" width="16" height="16" fill="#fff"/>
<rect x="1263.7" y="588.3" width="16" height="3.2" fill="#ed5565"/>
<rect x="1263.7" y="594.2" width="16" height="3.2" fill="#ed5565"/>
<rect x="1263.7" y="600.1" width="16" height="3.2" fill="#ed5565"/>
<rect x="1263.7" y="587.9" width="10" height="9.6" fill="#4a89dc"/>
<rect x="1265.4" y="589.3" width="1.3" height="1.3" fill="#cfe0f7"/>
<rect x="1268.5" y="589.3" width="1.3" height="1.3" fill="#cfe0f7"/>
<rect x="1271.6" y="589.3" width="1.3" height="1.3" fill="#cfe0f7"/>
<rect x="1265.4" y="592.3" width="1.3" height="1.3" fill="#cfe0f7"/>
<rect x="1268.5" y="592.3" width="1.3" height="1.3" fill="#cfe0f7"/>
<rect x="1271.6" y="592.3" width="1.3" height="1.3" fill="#cfe0f7"/>
<rect x="1265.4" y="595.3" width="1.3" height="1.3" fill="#cfe0f7"/>
<rect x="1268.5" y="595.3" width="1.3" height="1.3" fill="#cfe0f7"/>
<rect x="1271.6" y="595.3" width="1.3" height="1.3" fill="#cfe0f7"/>
</g>
<circle cx="1271.7" cy="595.9" r="11.1" fill="none" stroke="#f8a23a" stroke-width="1.35"/>
<clipPath id="cp2"><circle cx="1267.8" cy="595.9" r="7.9"/></clipPath>
<g clip-path="url(#cp2)"><rect x="1259.8" y="587.9" width="16" height="16" fill="#fff"/>
<rect x="1259.8" y="588.3" width="16" height="3.2" fill="#ed5565"/>
<rect x="1259.8" y="594.2" width="16" height="3.2" fill="#ed5565"/>
<rect x="1259.8" y="600.1" width="16" height="3.2" fill="#ed5565"/>
<rect x="1259.8" y="587.9" width="10" height="9.6" fill="#4a89dc"/>
<rect x="1261.5" y="589.3" width="1.3" height="1.3" fill="#cfe0f7"/>
<rect x="1264.6" y="589.3" width="1.3" height="1.3" fill="#cfe0f7"/>
<rect x="1267.7" y="589.3" width="1.3" height="1.3" fill="#cfe0f7"/>
<rect x="1261.5" y="592.3" width="1.3" height="1.3" fill="#cfe0f7"/>
<rect x="1264.6" y="592.3" width="1.3" height="1.3" fill="#cfe0f7"/>
<rect x="1267.7" y="592.3" width="1.3" height="1.3" fill="#cfe0f7"/>
<rect x="1261.5" y="595.3" width="1.3" height="1.3" fill="#cfe0f7"/>
<rect x="1264.6" y="595.3" width="1.3" height="1.3" fill="#cfe0f7"/>
<rect x="1267.7" y="595.3" width="1.3" height="1.3" fill="#cfe0f7"/>
</g>
<circle cx="1267.8" cy="595.9" r="11.1" fill="none" stroke="#f8a23a" stroke-width="1.35"/>
<circle cx="1267.8" cy="571.8" r="7.9" fill="#3f51b5"/>
<circle cx="1272.6" cy="571.8" r="0.8" fill="#f2c237"/>
<circle cx="1272.0" cy="574.2" r="0.8" fill="#f2c237"/>
<circle cx="1270.2" cy="576.0" r="0.8" fill="#f2c237"/>
<circle cx="1267.8" cy="576.6" r="0.8" fill="#f2c237"/>
<circle cx="1265.4" cy="576.0" r="0.8" fill="#f2c237"/>
<circle cx="1263.6" cy="574.2" r="0.8" fill="#f2c237"/>
<circle cx="1263.0" cy="571.8" r="0.8" fill="#f2c237"/>
<circle cx="1263.6" cy="569.4" r="0.8" fill="#f2c237"/>
<circle cx="1265.4" cy="567.6" r="0.8" fill="#f2c237"/>
<circle cx="1267.8" cy="567.0" r="0.8" fill="#f2c237"/>
<circle cx="1270.2" cy="567.6" r="0.8" fill="#f2c237"/>
<circle cx="1272.0" cy="569.4" r="0.8" fill="#f2c237"/>
<circle cx="1267.8" cy="571.8" r="11.1" fill="none" stroke="#f8a23a" stroke-width="1.35"/>
<clipPath id="cp3"><circle cx="1415.5" cy="595.9" r="7.9"/></clipPath>
<g clip-path="url(#cp3)"><rect x="1407.5" y="587.9" width="16" height="16" fill="#fff"/>
<rect x="1407.5" y="588.3" width="16" height="3.2" fill="#ed5565"/>
<rect x="1407.5" y="594.2" width="16" height="3.2" fill="#ed5565"/>
<rect x="1407.5" y="600.1" width="16" height="3.2" fill="#ed5565"/>
<rect x="1407.5" y="587.9" width="10" height="9.6" fill="#4a89dc"/>
<rect x="1409.2" y="589.3" width="1.3" height="1.3" fill="#cfe0f7"/>
<rect x="1412.3" y="589.3" width="1.3" height="1.3" fill="#cfe0f7"/>
<rect x="1415.4" y="589.3" width="1.3" height="1.3" fill="#cfe0f7"/>
<rect x="1409.2" y="592.3" width="1.3" height="1.3" fill="#cfe0f7"/>
<rect x="1412.3" y="592.3" width="1.3" height="1.3" fill="#cfe0f7"/>
<rect x="1415.4" y="592.3" width="1.3" height="1.3" fill="#cfe0f7"/>
<rect x="1409.2" y="595.3" width="1.3" height="1.3" fill="#cfe0f7"/>
<rect x="1412.3" y="595.3" width="1.3" height="1.3" fill="#cfe0f7"/>
<rect x="1415.4" y="595.3" width="1.3" height="1.3" fill="#cfe0f7"/>
</g>
<circle cx="1415.5" cy="595.9" r="11.1" fill="none" stroke="#ff4a68" stroke-width="1.35"/>
<clipPath id="cp4"><circle cx="1411.6" cy="595.9" r="7.9"/></clipPath>
<g clip-path="url(#cp4)"><rect x="1403.6" y="587.9" width="16" height="16" fill="#fff"/>
<rect x="1403.6" y="588.3" width="16" height="3.2" fill="#ed5565"/>
<rect x="1403.6" y="594.2" width="16" height="3.2" fill="#ed5565"/>
<rect x="1403.6" y="600.1" width="16" height="3.2" fill="#ed5565"/>
<rect x="1403.6" y="587.9" width="10" height="9.6" fill="#4a89dc"/>
<rect x="1405.3" y="589.3" width="1.3" height="1.3" fill="#cfe0f7"/>
<rect x="1408.4" y="589.3" width="1.3" height="1.3" fill="#cfe0f7"/>
<rect x="1411.5" y="589.3" width="1.3" height="1.3" fill="#cfe0f7"/>
<rect x="1405.3" y="592.3" width="1.3" height="1.3" fill="#cfe0f7"/>
<rect x="1408.4" y="592.3" width="1.3" height="1.3" fill="#cfe0f7"/>
<rect x="1411.5" y="592.3" width="1.3" height="1.3" fill="#cfe0f7"/>
<rect x="1405.3" y="595.3" width="1.3" height="1.3" fill="#cfe0f7"/>
<rect x="1408.4" y="595.3" width="1.3" height="1.3" fill="#cfe0f7"/>
<rect x="1411.5" y="595.3" width="1.3" height="1.3" fill="#cfe0f7"/>
</g>
<circle cx="1411.6" cy="595.9" r="11.1" fill="none" stroke="#ff4a68" stroke-width="1.35"/>
<clipPath id="cp5"><circle cx="1359.1" cy="595.9" r="7.9"/></clipPath>
<g clip-path="url(#cp5)"><rect x="1351.1" y="587.9" width="16" height="16" fill="#fff"/>
<rect x="1351.1" y="588.3" width="16" height="3.2" fill="#ed5565"/>
<rect x="1351.1" y="594.2" width="16" height="3.2" fill="#ed5565"/>
<rect x="1351.1" y="600.1" width="16" height="3.2" fill="#ed5565"/>
<rect x="1351.1" y="587.9" width="10" height="9.6" fill="#4a89dc"/>
<rect x="1352.8" y="589.3" width="1.3" height="1.3" fill="#cfe0f7"/>
<rect x="1355.9" y="589.3" width="1.3" height="1.3" fill="#cfe0f7"/>
<rect x="1359.0" y="589.3" width="1.3" height="1.3" fill="#cfe0f7"/>
<rect x="1352.8" y="592.3" width="1.3" height="1.3" fill="#cfe0f7"/>
<rect x="1355.9" y="592.3" width="1.3" height="1.3" fill="#cfe0f7"/>
<rect x="1359.0" y="592.3" width="1.3" height="1.3" fill="#cfe0f7"/>
<rect x="1352.8" y="595.3" width="1.3" height="1.3" fill="#cfe0f7"/>
<rect x="1355.9" y="595.3" width="1.3" height="1.3" fill="#cfe0f7"/>
<rect x="1359.0" y="595.3" width="1.3" height="1.3" fill="#cfe0f7"/>
</g>
<circle cx="1359.1" cy="595.9" r="11.1" fill="none" stroke="#f8a23a" stroke-width="1.35"/>
<circle cx="1353.4" cy="595.9" r="7.9" fill="#3f51b5"/>
<circle cx="1358.2" cy="595.9" r="0.8" fill="#f2c237"/>
<circle cx="1357.6" cy="598.3" r="0.8" fill="#f2c237"/>
<circle cx="1355.8" cy="600.1" r="0.8" fill="#f2c237"/>
<circle cx="1353.4" cy="600.7" r="0.8" fill="#f2c237"/>
<circle cx="1351.0" cy="600.1" r="0.8" fill="#f2c237"/>
<circle cx="1349.2" cy="598.3" r="0.8" fill="#f2c237"/>
<circle cx="1348.6" cy="595.9" r="0.8" fill="#f2c237"/>
<circle cx="1349.2" cy="593.5" r="0.8" fill="#f2c237"/>
<circle cx="1351.0" cy="591.7" r="0.8" fill="#f2c237"/>
<circle cx="1353.4" cy="591.1" r="0.8" fill="#f2c237"/>
<circle cx="1355.8" cy="591.7" r="0.8" fill="#f2c237"/>
<circle cx="1357.6" cy="593.5" r="0.8" fill="#f2c237"/>
<circle cx="1353.4" cy="595.9" r="11.1" fill="none" stroke="#ff4a68" stroke-width="1.35"/>
<circle cx="1382" cy="595.9" r="7.9" fill="#3f51b5"/>
<circle cx="1386.8" cy="595.9" r="0.8" fill="#f2c237"/>
<circle cx="1386.2" cy="598.3" r="0.8" fill="#f2c237"/>
<circle cx="1384.4" cy="600.1" r="0.8" fill="#f2c237"/>
<circle cx="1382.0" cy="600.7" r="0.8" fill="#f2c237"/>
<circle cx="1379.6" cy="600.1" r="0.8" fill="#f2c237"/>
<circle cx="1377.8" cy="598.3" r="0.8" fill="#f2c237"/>
<circle cx="1377.2" cy="595.9" r="0.8" fill="#f2c237"/>
<circle cx="1377.8" cy="593.5" r="0.8" fill="#f2c237"/>
<circle cx="1379.6" cy="591.7" r="0.8" fill="#f2c237"/>
<circle cx="1382.0" cy="591.1" r="0.8" fill="#f2c237"/>
<circle cx="1384.4" cy="591.7" r="0.8" fill="#f2c237"/>
<circle cx="1386.2" cy="593.5" r="0.8" fill="#f2c237"/>
<circle cx="1382" cy="595.9" r="11.1" fill="none" stroke="#f8a23a" stroke-width="1.35"/>
<circle cx="1405.9" cy="595.9" r="7.9" fill="#3f51b5"/>
<circle cx="1410.7" cy="595.9" r="0.8" fill="#f2c237"/>
<circle cx="1410.1" cy="598.3" r="0.8" fill="#f2c237"/>
<circle cx="1408.3" cy="600.1" r="0.8" fill="#f2c237"/>
<circle cx="1405.9" cy="600.7" r="0.8" fill="#f2c237"/>
<circle cx="1403.5" cy="600.1" r="0.8" fill="#f2c237"/>
<circle cx="1401.7" cy="598.3" r="0.8" fill="#f2c237"/>
<circle cx="1401.1" cy="595.9" r="0.8" fill="#f2c237"/>
<circle cx="1401.7" cy="593.5" r="0.8" fill="#f2c237"/>
<circle cx="1403.5" cy="591.7" r="0.8" fill="#f2c237"/>
<circle cx="1405.9" cy="591.1" r="0.8" fill="#f2c237"/>
<circle cx="1408.3" cy="591.7" r="0.8" fill="#f2c237"/>
<circle cx="1410.1" cy="593.5" r="0.8" fill="#f2c237"/>
<circle cx="1405.9" cy="595.9" r="11.1" fill="none" stroke="#f8a23a" stroke-width="1.35"/>
<circle cx="1410.7" cy="571.8" r="7.9" fill="#3f51b5"/>
<circle cx="1415.5" cy="571.8" r="0.8" fill="#f2c237"/>
<circle cx="1414.9" cy="574.2" r="0.8" fill="#f2c237"/>
<circle cx="1413.1" cy="576.0" r="0.8" fill="#f2c237"/>
<circle cx="1410.7" cy="576.6" r="0.8" fill="#f2c237"/>
<circle cx="1408.3" cy="576.0" r="0.8" fill="#f2c237"/>
<circle cx="1406.5" cy="574.2" r="0.8" fill="#f2c237"/>
<circle cx="1405.9" cy="571.8" r="0.8" fill="#f2c237"/>
<circle cx="1406.5" cy="569.4" r="0.8" fill="#f2c237"/>
<circle cx="1408.3" cy="567.6" r="0.8" fill="#f2c237"/>
<circle cx="1410.7" cy="567.0" r="0.8" fill="#f2c237"/>
<circle cx="1413.1" cy="567.6" r="0.8" fill="#f2c237"/>
<circle cx="1414.9" cy="569.4" r="0.8" fill="#f2c237"/>
<circle cx="1410.7" cy="571.8" r="11.1" fill="none" stroke="#f8a23a" stroke-width="1.35"/>
<circle cx="1276.8" cy="565.6" r="7" fill="#fff"/>
<text x="1276.8" y="567.9000000000001" font-size="10.3" fill="#111" text-anchor="middle">2</text>
<circle cx="1276.8" cy="589.6" r="7" fill="#fff"/>
<text x="1276.8" y="591.9000000000001" font-size="10.3" fill="#111" text-anchor="middle">3</text>
<circle cx="1367.6" cy="589.6" r="7" fill="#fff"/>
<text x="1367.6" y="591.9000000000001" font-size="10.3" fill="#111" text-anchor="middle">12</text>
<circle cx="1391.1" cy="589.6" r="7" fill="#fff"/>
<text x="1391.1" y="591.9000000000001" font-size="10.3" fill="#111" text-anchor="middle">2</text>
<circle cx="1424.5" cy="589.6" r="7" fill="#fff"/>
<text x="1424.5" y="591.9000000000001" font-size="10.3" fill="#111" text-anchor="middle">8</text>
<circle cx="1419.7" cy="565.6" r="7" fill="#fff"/>
<text x="1419.7" y="567.9000000000001" font-size="10.3" fill="#111" text-anchor="middle">5</text>
</svg></body></html>
